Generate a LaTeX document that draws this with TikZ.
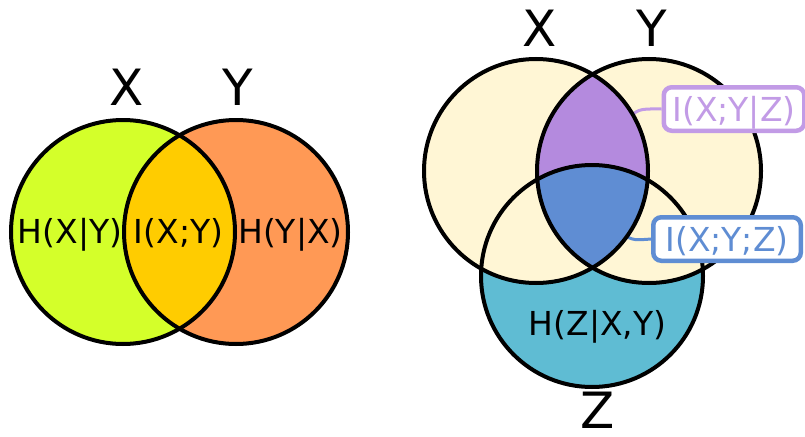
\documentclass[tikz,border=0pt]{standalone}
\usepackage{fontspec}
\setmainfont{DejaVu Sans}
\definecolor{cLime}{HTML}{D4FF2A}
\definecolor{cOrange}{HTML}{FF9955}
\definecolor{cGold}{HTML}{FFCC00}
\definecolor{cPale}{HTML}{FFF6D5}
\definecolor{cTeal}{HTML}{5FBCD3}
\definecolor{cBlue}{HTML}{5F8DD3}
\definecolor{cPurple}{HTML}{B48ADE}
\definecolor{cPurpleLine}{HTML}{C29BE6}
\pgfdeclarelayer{back}
\pgfdeclarelayer{mid}
\pgfsetlayers{back,mid,main}
\tikzset{
  ring/.style={draw=black, line width=4pt},
  bigtxt/.style={anchor=base, inner sep=0pt, font=\fontsize{50}{60}\selectfont},
  smalltxt/.style={anchor=base, inner sep=0pt, font=\fontsize{33}{40}\selectfont},
  callout/.style={draw=#1, text=#1, fill=white, line width=4.5pt, rounded corners=8pt,
    inner sep=0pt, text height=24pt, text depth=0pt, font=\fontsize{33}{40}\selectfont},
  leader/.style={draw=#1, line width=3pt}
}
\begin{document}
\begin{tikzpicture}[x=1pt,y=-1pt]
\useasboundingbox (0,0) rectangle (805,436);
% ---------- left diagram ----------
\def\LX{(123,232) circle[radius=112]}
\def\LY{(236,232) circle[radius=112]}
\fill[cLime] \LX;
\fill[cOrange] \LY;
\begin{scope}
  \clip \LX;
  \fill[cGold] \LY;
\end{scope}
\draw[ring] \LX;
\draw[ring] \LY;
\node[bigtxt] (lx) at (127,105) {X};
\node[bigtxt] (ly) at (238,105) {Y};
\node[smalltxt] (hxy) at (70,243) {H(X|Y)};
\node[smalltxt] (ixy) at (178.5,243) {I(X;Y)};
\node[smalltxt] (hyx) at (290.5,243) {H(Y|X)};
% ---------- right diagram ----------
\def\RX{(536,171) circle[radius=112]}
\def\RY{(649,171) circle[radius=112]}
\def\RZ{(592,276) circle[radius=111]}
\begin{pgfonlayer}{back}
\fill[cPale] \RX;
\fill[cPale] \RY;
\begin{scope}
  \clip \RZ;
  \fill[cTeal] \RZ;
  \fill[cPale] \RX;
  \fill[cPale] \RY;
\end{scope}
\begin{scope}
  \clip \RX;
  \clip \RY;
  \fill[cPurple] \RY;
  \clip \RZ;
  \fill[cBlue] \RZ;
\end{scope}
\end{pgfonlayer}
\draw[ring] \RX;
\draw[ring] \RY;
\draw[ring] \RZ;
% callouts
\node[callout=cPurpleLine, minimum width=140.5pt, minimum height=43.5pt] (pbox) at (734,109) {I(X;Y|Z)};
\node[callout=cBlue, minimum width=147.5pt, minimum height=43.5pt] (bbox) at (727,239) {I(X;Y;Z)};
\coordinate (pl) at (631,117);
\coordinate (bl) at (625,234);
\begin{pgfonlayer}{mid}
\draw[leader=cPurpleLine] (pl) .. controls (637,108) and (645,109) .. (pbox.west);
\draw[leader=cBlue] (bl) .. controls (630,241) and (638,240) .. (bbox.west);
\end{pgfonlayer}
\node[bigtxt] (rx) at (540,47) {X};
\node[bigtxt] (ry) at (652,47) {Y};
\node[bigtxt] (rz) at (598,428) {Z};
\node[smalltxt] (hzxy) at (597.5,335) {H(Z|X,Y)};
\end{tikzpicture}
\end{document}
